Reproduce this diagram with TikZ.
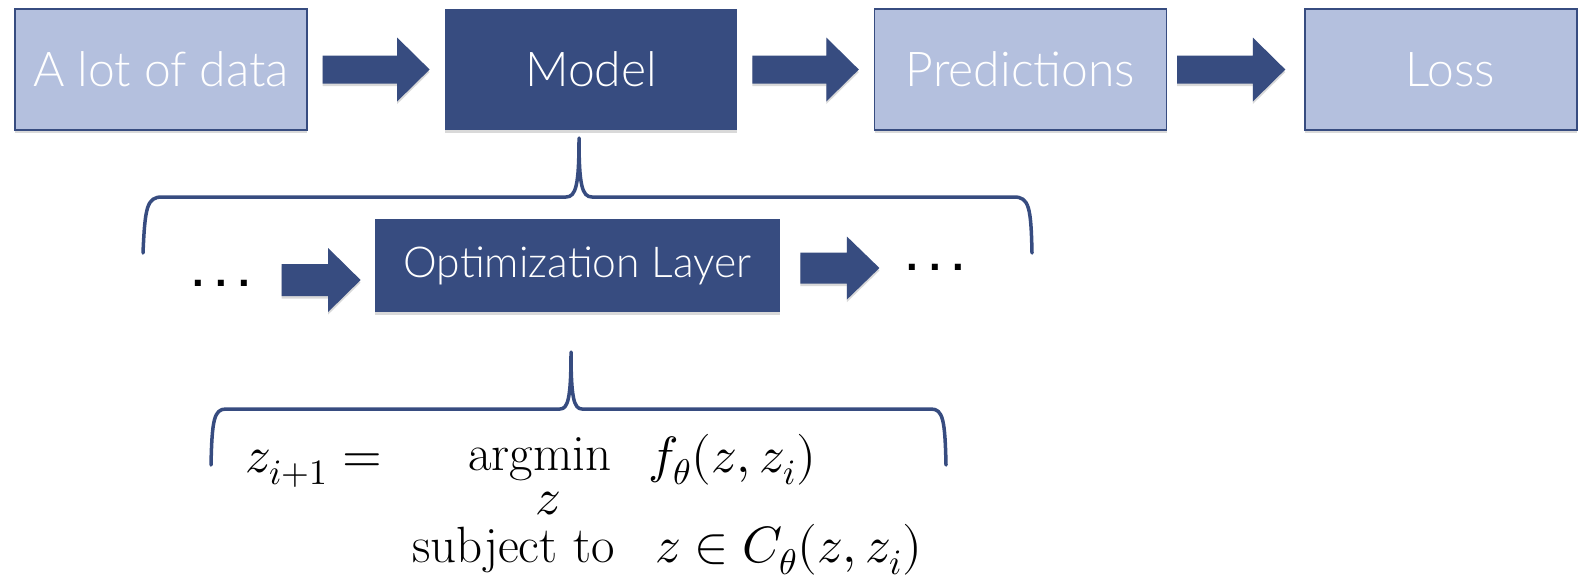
\documentclass[tikz,border=0pt]{standalone}
\usepackage{unicode-math}
\setmathfont{Latin Modern Math}
\newfontfamily\boxfont{Lato Light}
\newfontfamily\dotfont{Liberation Sans}
\usetikzlibrary{calc,shadows}

\definecolor{navy}{RGB}{55,76,128}
\definecolor{paleblue}{RGB}{180,192,222}

\tikzset{
  boxshadow/.style={drop shadow={shadow xshift=0pt, shadow yshift=-1.3pt, opacity=0.3}},
  basebox/.style={inner sep=0pt, text=white, boxshadow},
  lightbox/.style={basebox, draw=navy, line width=0.7pt, fill=paleblue,
    font=\boxfont\fontsize{24}{28}\selectfont, minimum width=146pt, minimum height=60.5pt},
  darkbox/.style={basebox, fill=navy,
    font=\boxfont\fontsize{24}{28}\selectfont, minimum width=146pt, minimum height=60.5pt},
  arrowfill/.style={fill=navy, boxshadow},
  brace/.style={draw=navy, line width=1.75pt, line cap=round, line join=round},
  eq/.style={font=\fontsize{25.5}{30}\selectfont, inner sep=0pt, anchor=base west},
  ellipsisdots/.style={font=\dotfont\bfseries\fontsize{21}{25}\selectfont, inner sep=0pt},
}

% block arrow: tail, tip, shaft half-width, head half-width
\newcommand\blockarrow[4]{%
  \fill[arrowfill] let \p1=#1, \p2=#2 in
    (\x1,\y1+#3) -- (\x2-16.25pt,\y1+#3) -- (\x2-16.25pt,\y1+#4) -- (\x2,\y1)
    -- (\x2-16.25pt,\y1-#4) -- (\x2-16.25pt,\y1-#3) -- (\x1,\y1-#3) -- cycle;}

\newcommand\threedots{.\kern5.6pt.\kern5.6pt.}

\begin{document}
\begin{tikzpicture}[x=0.5pt, y=-0.5pt]
  \useasboundingbox (0,0) rectangle (1578,579);

  % top pipeline
  \node[lightbox] (data)  at (161,69.5)    {A lot of data};
  \node[darkbox]  (model) at (591,69.5)    {Model};
  \node[lightbox] (pred)  at (1020.5,69.5) {Predictions};
  \node[lightbox, minimum width=136pt] (loss) at (1441,69.5) {\hspace{9pt}Loss};

  \blockarrow{($(data.east)+(15,0)$)}{($(model.west)+(-15,0)$)}{7pt}{16pt}
  \blockarrow{($(model.east)+(15,0)$)}{($(pred.west)+(-15,0)$)}{7pt}{16pt}
  \blockarrow{($(pred.east)+(10,0)$)}{($(loss.west)+(-19,0)$)}{7pt}{16pt}

  % brace opening the model
  \draw[brace] (143,253) .. controls (145,207) and (147,197) .. (162,197)
    -- (566,197) .. controls (576,197) and (579,185) .. (579,138)
    .. controls (579,185) and (582,197) .. (592,197)
    -- (1014,197) .. controls (1029,197) and (1031,207) .. (1032,253);

  % inside the model
  \node[darkbox, font=\boxfont\fontsize{21.3}{25}\selectfont,
        minimum width=202.5pt, minimum height=46.5pt] (opt) at (577.5,265.5) {Optimization Layer};
  \node[ellipsisdots] (dotsL) at (221,283) {\threedots};
  \node[ellipsisdots] (dotsR) at (935,267.5) {\threedots};

  \blockarrow{($(opt.west)+(-93,14.5)$)}{($(opt.west)+(-14,14.5)$)}{8pt}{16pt}
  \blockarrow{($(opt.east)+(20,2.5)$)}{($(opt.east)+(99,2.5)$)}{7.75pt}{15.75pt}

  % brace opening the layer
  \draw[brace] (211,465) .. controls (212,420) and (214,409) .. (226,409)
    -- (560,409) .. controls (568,409) and (571,398) .. (571,352)
    .. controls (571,398) and (574,409) .. (582,409)
    -- (931,409) .. controls (943,409) and (945,420) .. (946,465);

  % layer definition: argmin carries its variable underneath
  \node[eq] (lhs) at (245,472) {$z_{i+1} =$};
  \node[eq] (argmin) at (468,470)
    {\makebox[0pt][l]{\hspace{33.5pt}\raisebox{-22pt}{$z$}}argmin};
  \node[eq] (obj) at (648,472) {$f_\theta(z, z_i)$};
  \node[eq] (st) at (412,562) {subject to};
  \node[eq] (con) at (655,562) {$z \in C_\theta(z, z_i)$};
\end{tikzpicture}
\end{document}
